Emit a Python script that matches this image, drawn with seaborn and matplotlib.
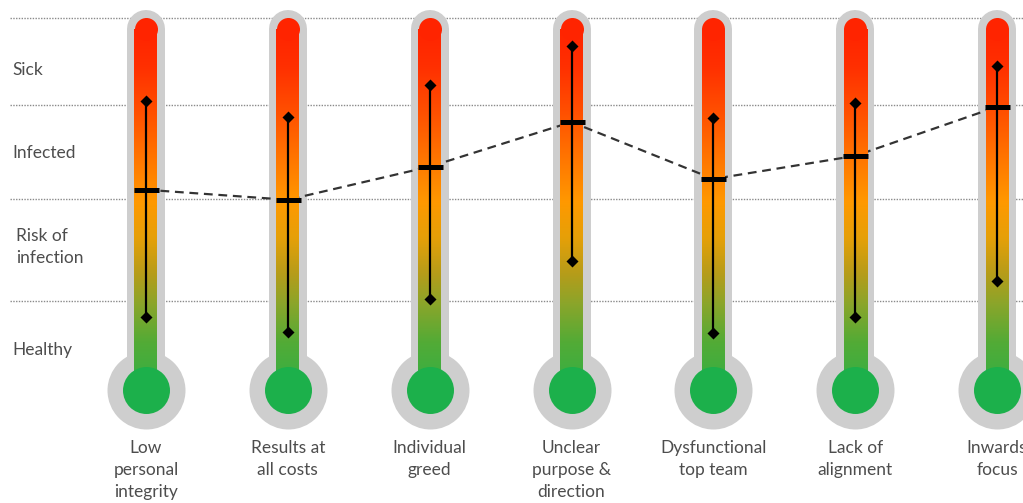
import numpy as np
import matplotlib
matplotlib.use("Agg")
import matplotlib.pyplot as plt
import seaborn as sns
from matplotlib.colors import LinearSegmentedColormap

# data (score 0 = bulb centre, 100 = top of the tube)
categories = ["Low\npersonal\nintegrity", "Results at\nall costs", "Individual\ngreed",
              "Unclear\npurpose &\ndirection", "Dysfunctional\ntop team", "Lack of\nalignment",
              "Inwards\nfocus"]
means = [53.8, 51.1, 60.0, 72.0, 56.7, 62.9, 76.1]
upper = [77.7, 73.4, 82.0, 92.5, 73.1, 77.2, 87.1]
lower = [19.6, 15.6, 24.5, 34.7, 15.3, 19.6, 29.3]

band_names = ["Sick", "Infected", "Risk of\ninfection", "Healthy"]
band_label_pos = [86.0, 63.7, 38.4, 10.8]
band_lines = [100.0, 76.6, 51.3, 23.9]

tube_top = 96.9

sns.set_style("white")
plt.rcParams['font.family'] = ['Lato', 'DejaVu Sans']

cmap = LinearSegmentedColormap.from_list("thermo", [
    (0.00, "#33b046"), (0.13, "#52ab36"), (0.24, "#8ca52a"), (0.32, "#b59c1a"),
    (0.42, "#e5a008"), (0.52, "#ff9900"), (0.62, "#ff7c00"), (0.77, "#ff5000"),
    (0.90, "#ff2f00"), (1.00, "#ff2400")])

fig = plt.figure(figsize=(10.23, 5.03), dpi=100)
ax = fig.add_axes([0, 0, 1, 1])
ax.axis("off")

xs = np.arange(len(categories))
xlim = (-1.029, 6.183)
ylim = (-30.4, 104.8)
px_per_x = 1023 / (xlim[1] - xlim[0])
pt = 72 / 100  # points per pixel
txt_color = "#4d4d4d"

# dotted band lines
for yv in band_lines:
    ax.plot([xlim[0] + 10 / px_per_x, xlim[1]], [yv, yv], color="#8a8a8a",
            ls=(0, (1, 1)), lw=1.0, zorder=1)

# band labels
for name, yv in zip(band_names, band_label_pos):
    xoff = 16 if "\n" in name else 12
    ax.text(xoff / 1023, yv, name, transform=ax.get_yaxis_transform(),
            ha="left", va="center", fontsize=12.5, color=txt_color,
            linespacing=1.45)

grad = np.linspace(0, 1, 256).reshape(-1, 1)
tube_w = 23 / px_per_x

for i, x in enumerate(xs):
    # grey casing
    ax.plot([x, x], [0, tube_top], color="#cecece", lw=38 * pt,
            solid_capstyle="round", zorder=2)
    ax.scatter([x], [0], s=(78 * pt) ** 2, color="#cecece", lw=0, zorder=2)
    # coloured tube
    ax.imshow(grad, cmap=cmap, origin="lower", aspect="auto",
              extent=[x - tube_w / 2, x + tube_w / 2, 0, tube_top],
              interpolation="bilinear", zorder=4)
    ax.scatter([x], [tube_top], s=(23 * pt) ** 2, color=cmap(1.0), lw=0, zorder=4)
    ax.scatter([x], [0], s=(47 * pt) ** 2, color="#1cb04b", lw=0, zorder=5)
    # range bar
    ax.plot([x, x], [lower[i], upper[i]], color="black", lw=2 * pt * 1.1, zorder=6)
    ax.text(x, -13.6, categories[i], ha="center", va="top", fontsize=12.5,
            color=txt_color, linespacing=1.45)

sns.lineplot(x=xs, y=means, ax=ax, color="#333333", lw=2 * pt * 1.1,
             linestyle=(0, (4, 2.6)), zorder=3)
sns.scatterplot(x=np.concatenate([xs, xs]), y=upper + lower, ax=ax, marker="D",
                s=(8.5 * pt) ** 2, color="black", lw=0, zorder=7)
ax.scatter(xs, means, marker="_", s=(25 * pt) ** 2, color="black",
           linewidths=5 * pt, zorder=7)

ax.set_xlim(*xlim)
ax.set_ylim(*ylim)
ax.axis("off")
fig.savefig("out.png", dpi=100)
